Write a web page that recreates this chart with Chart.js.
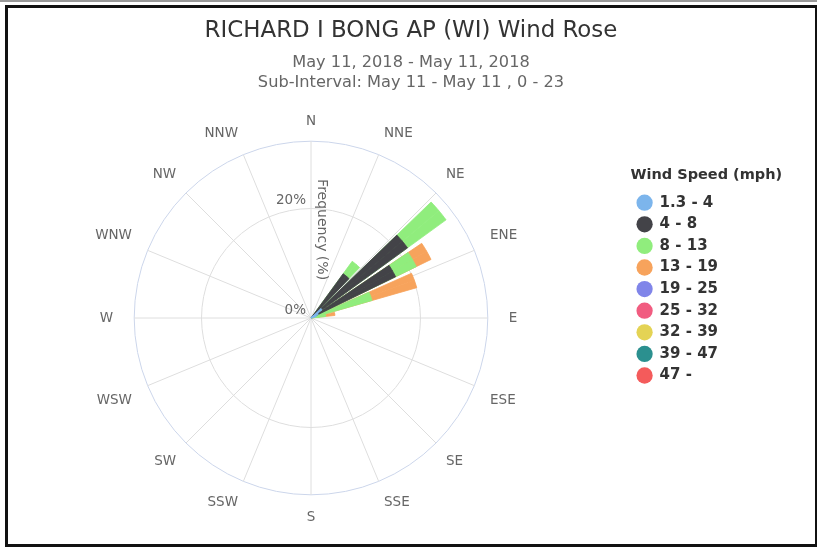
<!DOCTYPE html>
<html>
<head>
<meta charset="utf-8">
<title>RICHARD I BONG AP (WI) Wind Rose</title>
<script src="https://cdn.jsdelivr.net/npm/chart.js@4.4.1/dist/chart.umd.min.js"></script>
<style>
    html, body { margin: 0; padding: 0; background: #fff; }
    #wrap { position: relative; width: 817px; height: 550px; overflow: hidden; }
    #topLine { position: absolute; left: 0; top: 0; width: 817px; height: 2px; background: #999; }
    #frame { position: absolute; left: 5px; top: 5px; width: 813px; height: 542px; box-sizing: border-box; border: 3px solid #111; pointer-events: none; }
</style>
</head>
<body>
<div id="wrap">
    <canvas id="windRose" width="817" height="550"></canvas>
    <div id="topLine"></div>
    <div id="frame"></div>
</div>
<script>
const directions = ['N', 'NNE', 'NE', 'ENE', 'E', 'ESE', 'SE', 'SSE', 'S', 'SSW', 'SW', 'WSW', 'W', 'WNW', 'NW', 'NNW'];

// centre of every 10 degree bin
const binDegrees = [0, 10, 20, 30, 40, 50, 60, 70, 80, 90, 100, 110,
                    120, 130, 140, 150, 160, 170, 180, 190, 200, 210, 220, 230,
                    240, 250, 260, 270, 280, 290, 300, 310, 320, 330, 340, 350];

const speedClasses = ['1.3 - 4', '4 - 8', '8 - 13', '13 - 19', '19 - 25', '25 - 32', '32 - 39', '39 - 47', '47 -'];
const speedColors = ['#7cb5ec', '#434348', '#90ed7d', '#f7a35c', '#8085e9', '#f15c80', '#e4d354', '#2b908f', '#f45b5b'];

// frequency (%) per bin, one array per speed class
const speed1to4 = [0, 0, 0, 0, 0.5, 2.5, 1.5, 1.0, 0, 0, 0, 0,
                   0, 0, 0, 0, 0, 0, 0, 0, 0, 0, 0, 0,
                   0, 0, 0, 0, 0, 0, 0, 0, 0, 0, 0, 0];
const speed4to8 = [0, 0, 0, 0, 9.5, 19.3, 15.7, 0, 0, 0, 0, 0,
                   0, 0, 0, 0, 0, 0, 0, 0, 0, 0, 0, 0,
                   0, 0, 0, 0, 0, 0, 0, 0, 0, 0, 0, 0];
const speed8to13 = [0, 0, 0, 0, 2.8, 8.7, 4.2, 10.6, 2.7, 0, 0, 0,
                    0, 0, 0, 0, 0, 0, 0, 0, 0, 0, 0, 0,
                    0, 0, 0, 0, 0, 0, 0, 0, 0, 0, 0, 0];
const speed13to19 = [0, 0, 0, 0, 0, 0, 3.0, 8.5, 1.7, 0, 0, 0,
                     0, 0, 0, 0, 0, 0, 0, 0, 0, 0, 0, 0,
                     0, 0, 0, 0, 0, 0, 0, 0, 0, 0, 0, 0];
const speed19to25 = [0, 0, 0, 0, 0, 0, 0, 0, 0, 0, 0, 0,
                     0, 0, 0, 0, 0, 0, 0, 0, 0, 0, 0, 0,
                     0, 0, 0, 0, 0, 0, 0, 0, 0, 0, 0, 0];
const speed25to32 = [0, 0, 0, 0, 0, 0, 0, 0, 0, 0, 0, 0,
                     0, 0, 0, 0, 0, 0, 0, 0, 0, 0, 0, 0,
                     0, 0, 0, 0, 0, 0, 0, 0, 0, 0, 0, 0];
const speed32to39 = [0, 0, 0, 0, 0, 0, 0, 0, 0, 0, 0, 0,
                     0, 0, 0, 0, 0, 0, 0, 0, 0, 0, 0, 0,
                     0, 0, 0, 0, 0, 0, 0, 0, 0, 0, 0, 0];
const speed39to47 = [0, 0, 0, 0, 0, 0, 0, 0, 0, 0, 0, 0,
                     0, 0, 0, 0, 0, 0, 0, 0, 0, 0, 0, 0,
                     0, 0, 0, 0, 0, 0, 0, 0, 0, 0, 0, 0];
const speed47up = [0, 0, 0, 0, 0, 0, 0, 0, 0, 0, 0, 0,
                   0, 0, 0, 0, 0, 0, 0, 0, 0, 0, 0, 0,
                   0, 0, 0, 0, 0, 0, 0, 0, 0, 0, 0, 0];

const tickValues = [0, 20];
const tickLabels = ['0%', '20%'];
const axisMax = 32.3;

const speedValues = [speed1to4, speed4to8, speed8to13, speed13to19, speed19to25,
                     speed25to32, speed32to39, speed39to47, speed47up];

Chart.defaults.font.family = '"DejaVu Sans", sans-serif';

// a bar is split in two halves so that each half-pair sits centred on its bin
const binWidth = 10;
const barWidth = 8;
const pieceAngles = [];
binDegrees.forEach(() => pieceAngles.push(barWidth / 2, binWidth - barWidth, barWidth / 2));

// stacked: each class is drawn out to the running total, smaller totals drawn on top
const stackedPieces = function(classIndex) {
    const own = speedValues[classIndex];
    const totals = binDegrees.map((deg, k) => {
        if (own[k] <= 0) return 0;
        return speedValues.slice(0, classIndex + 1).reduce((acc, arr) => acc + arr[k], 0);
    });
    const pieces = [];
    totals.forEach((v, k) => pieces.push(v, 0, totals[(k + 1) % totals.length]));
    return pieces;
}

const datasets = speedClasses.map((name, i) => ({
    label: name,
    data: stackedPieces(i),
    backgroundColor: speedColors[i],
    borderColor: speedColors[i],
    borderWidth: (ctx) => ctx.dataIndex % 3 === 1 ? 0 : 0.8,
    angle: (ctx) => pieceAngles[ctx.dataIndex]
}));

// tick labels, axis title and the legend heading
const axisText = {
    id: 'axisText',
    afterDraw(chart) {
        const scale = chart.scales.r;
        const ctx = chart.ctx;
        ctx.save();
        ctx.fillStyle = '#666666';
        ctx.font = '13.5px "DejaVu Sans"';
        ctx.textAlign = 'right';
        ctx.textBaseline = 'middle';
        tickValues.forEach((v, i) => {
            const y = scale.yCenter - scale.getDistanceFromCenterForValue(v);
            ctx.fillText(tickLabels[i], scale.xCenter - 5, y - 8);
        });

        ctx.fillStyle = '#333333';
        ctx.font = 'bold 14.5px "DejaVu Sans"';
        ctx.textAlign = 'left';
        ctx.fillText('Wind Speed (mph)', chart.legend.left, 175);

        ctx.fillStyle = '#666666';
        ctx.font = '14px "DejaVu Sans"';
        ctx.textAlign = 'center';
        ctx.translate(scale.xCenter + 11, scale.yCenter - scale.drawingArea / 2);
        ctx.rotate(Math.PI / 2);
        ctx.fillText('Frequency (%)', 0, 0);
        ctx.restore();
    }
};

// empty boxes either side of the legend so it sits where the original one does
const spacer = (w, weight) => ({
    type: 'linear',
    position: 'right',
    weight: weight,
    min: 0,
    max: 1,
    display: true,
    grid: { display: false },
    border: { display: false },
    ticks: { display: false },
    afterFit: (scale) => { scale.width = w; }
});

new Chart('windRose', {
    type: 'polarArea',
    data: {
        labels: directions,
        datasets: datasets
    },
    plugins: [axisText],
    options: {
        responsive: false,
        animation: false,
        events: [],
        layout: { padding: { top: 0, left: -3, right: -8, bottom: 22 } },
        scales: {
            r: {
                min: 0,
                max: axisMax,
                startAngle: 0,
                ticks: { display: false, stepSize: 20 },
                grid: {
                    circular: true,
                    color: (ctx) => ctx.tick && ctx.tick.value >= axisMax ? '#ccd6eb' : '#dedede',
                    lineWidth: 1
                },
                angleLines: { display: true, color: '#dedede', lineWidth: 1 },
                pointLabels: {
                    display: true,
                    padding: (ctx) => {
                        if (ctx.index === 0) return 12;
                        if (ctx.index === 8) return 15;
                        if (ctx.index === 4 || ctx.index === 12) return 21;
                        if ([3, 5, 11, 13].includes(ctx.index)) return 17;
                        return 14;
                    },
                    color: '#666666',
                    font: { size: 13.5 }
                }
            },
            gapInner: spacer(8, 0),
            gapOuter: spacer(97, 2000)
        },
        plugins: {
            tooltip: { enabled: false },
            title: {
                display: true,
                text: 'RICHARD I BONG AP (WI) Wind Rose',
                color: '#333333',
                font: { size: 22.9, weight: 'normal' },
                padding: { top: 17.5, bottom: 0 }
            },
            subtitle: {
                display: true,
                text: ['May 11, 2018 - May 11, 2018', 'Sub-Interval: May 11 - May 11 , 0 - 23'],
                color: '#666666',
                font: { size: 16.2, lineHeight: 1.25 },
                padding: { top: 7.5, bottom: 19.5 }
            },
            legend: {
                position: 'right',
                align: 'start',
                title: {
                    display: true,
                    text: '',
                    font: { size: 14.5, weight: 'bold' },
                    padding: { top: 167.75, bottom: 3.45 }
                },
                labels: {
                    usePointStyle: true,
                    boxHeight: 11.5,
                    padding: 6.6,
                    color: '#333333',
                    font: { size: 15, weight: 'bold' },
                    generateLabels: (chart) => chart.data.datasets.map((ds, i) => ({
                        text: ds.label,
                        fillStyle: speedColors[i],
                        strokeStyle: speedColors[i],
                        fontColor: '#333333',
                        lineWidth: 0,
                        pointStyle: 'circle',
                        hidden: false,
                        datasetIndex: i
                    }))
                }
            }
        }
    }
});
</script>
</body>
</html>
